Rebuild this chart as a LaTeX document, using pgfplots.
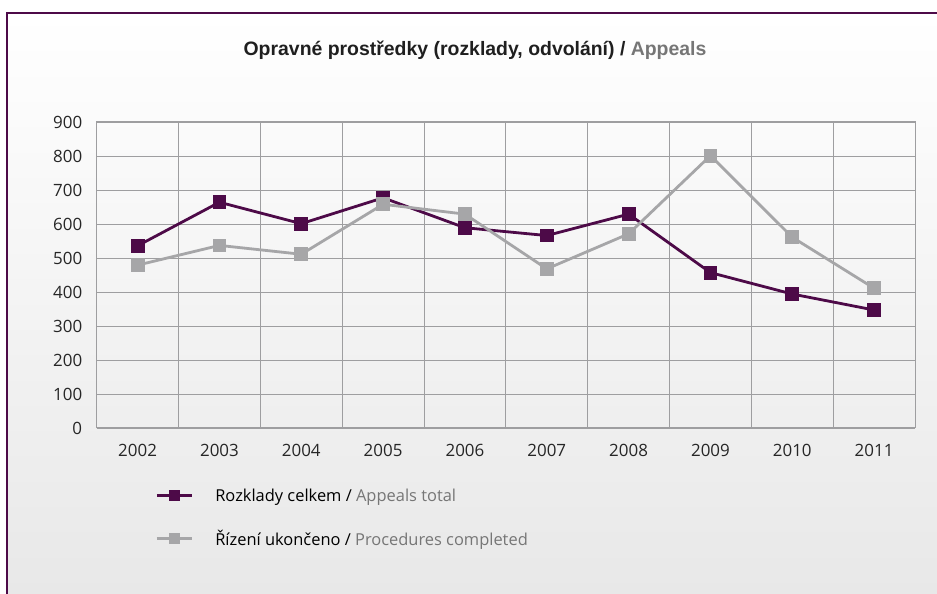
\documentclass[border=0pt]{standalone}
\usepackage{fontspec}
\setmainfont{Open Sans}
\newfontfamily\titlefont{Liberation Sans}
\usepackage{pgfplots}
\pgfplotsset{compat=1.18}
\definecolor{plum}{RGB}{77,10,72}
\definecolor{lgray}{RGB}{166,166,168}
\definecolor{tgray}{RGB}{118,118,118}
\definecolor{gridc}{RGB}{158,158,160}

\begin{document}
\begin{tikzpicture}[x=1bp,y=1bp]
\path[use as bounding box] (0,0) rectangle (937,594);
\shade[top color=white, bottom color=black!9] (7,0) rectangle (937,581);
\draw[plum, line width=2bp] (7,0) -- (7,581) -- (937,581);
\node[font=\titlefont\bfseries\fontsize{19.5}{23}\selectfont, text=black!88] at (475,544)
  {Opravné prostředky (rozklady, odvolání) / \textcolor{tgray}{Appeals}};
\begin{axis}[
  at={(96.7bp,166bp)}, anchor=south west,
  scale only axis, width=818.3bp, height=306bp,
  xmin=-0.5, xmax=9.5, ymin=0, ymax=900,
  xtick={0,...,9},
  xticklabels={2002,2003,2004,2005,2006,2007,2008,2009,2010,2011},
  minor xtick={0.5,1.5,...,8.5},
  ytick={0,100,...,900},
  xminorgrids, ymajorgrids,
  major tick length=0, minor tick length=0,
  grid style={gridc, line width=0.9bp},
  minor grid style={gridc, line width=0.9bp},
  axis line style={gridc, line width=1bp},
  tick label style={font=\fontsize{17}{20}\selectfont, text=black!85},
  /pgf/number format/assume math mode=true,
  /pgf/number format/1000 sep={},
  yticklabel style={xshift=-11bp},
  xticklabel style={yshift=-13bp},
  legend style={at={(0.068,-0.185)}, anchor=north west, draw=none, fill=none,
    font=\fontsize{16.5}{19}\selectfont, row sep=23bp, column sep=20bp},
  legend cell align=left,
  legend image code/.code={
    \draw[#1, mark=none] (0bp,0bp) -- (35bp,0bp);
    \fill[#1] (13.5bp,-4bp) rectangle (21.5bp,4bp);
  },
]
\addplot[plum, line width=2.8bp, mark=square*, mark size=5.5bp, mark options={solid}]
  coordinates {(0,536) (1,664) (2,601) (3,677) (4,589) (5,566) (6,629) (7,457) (8,394) (9,347)};
\addlegendentry{Rozklady celkem / \textcolor{tgray}{Appeals total}}
\addplot[lgray, line width=2.8bp, mark=square*, mark size=5.5bp, mark options={solid}]
  coordinates {(0,479) (1,537) (2,511) (3,658) (4,629) (5,468) (6,571) (7,801) (8,561) (9,411)};
\addlegendentry{Řízení ukončeno / \textcolor{tgray}{Procedures completed}}
\end{axis}
\end{tikzpicture}
\end{document}
